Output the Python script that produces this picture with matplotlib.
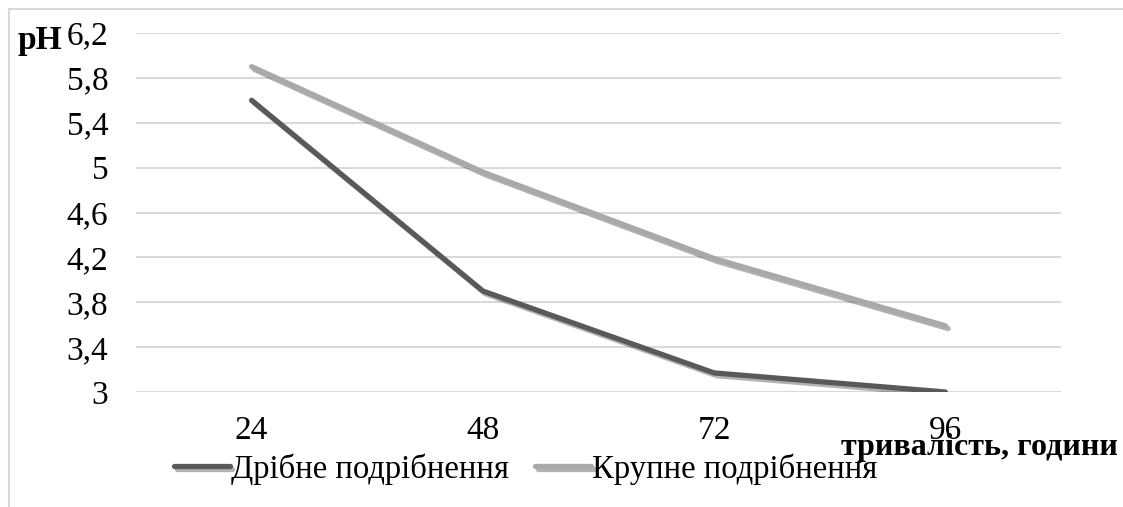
import matplotlib.pyplot as plt
import matplotlib.patheffects as pe
from matplotlib.patches import Rectangle

plt.rcParams['font.family'] = ['Liberation Serif', 'DejaVu Serif']

# дані
години = ["24", "48", "72", "96"]
дрібне = [5.6, 3.9, 3.17, 3.0]
крупне = [5.9, 4.96, 4.19, 3.59]
yticks = [3, 3.4, 3.8, 4.2, 4.6, 5, 5.4, 5.8, 6.2]
ytick_labels = ["3", "3,4", "3,8", "4,2", "4,6", "5", "5,4", "5,8", "6,2"]

fig = plt.figure(figsize=(11.23, 5.07), dpi=100)
ax = fig.add_axes([136 / 1123, 1 - 392 / 507, 925 / 1123, 359 / 507])

# рамка навколо діаграми
fig.patches.append(Rectangle((9 / 1123, -0.1), 1.2, 1 - 9 / 507 + 0.1,
                             transform=fig.transFigure, fill=False,
                             edgecolor='#d9d9d9', linewidth=1.5))

x = range(len(години))
shadow = [pe.SimpleLineShadow(offset=(2, -2), shadow_color='black', alpha=0.3), pe.Normal()]
ax.plot(x, дрібне, color='#595959', linewidth=3.8, solid_capstyle='round',
        label='Дрібне подрібнення', path_effects=shadow)
ax.plot(x, крупне, color='#a9a9a9', linewidth=3.8, solid_capstyle='round',
        label='Крупне подрібнення', path_effects=shadow)

ax.set_xlim(-0.5, 3.5)
ax.set_ylim(3, 6.2)
ax.set_xticks(list(x))
ax.set_xticklabels(години, fontsize=24)
ax.set_yticks(yticks)
ax.set_yticklabels(ytick_labels, fontsize=24)
ax.tick_params(length=0)
ax.tick_params(axis='y', pad=20)
ax.tick_params(axis='x', pad=17)
ax.grid(axis='y', color='#d9d9d9', linewidth=1.5)
ax.set_axisbelow(True)
for s in ax.spines.values():
    s.set_visible(False)

fig.text(17 / 1123, 1 - 41 / 507, "pH", fontsize=24, fontweight='bold', va='center', ha='left')
fig.text(1118 / 1123, 1 - 447 / 507, "тривалість, години", fontsize=23,
         fontweight='bold', va='center', ha='right')

fig.legend(loc='center', bbox_to_anchor=(526 / 1123, 1 - 469 / 507), ncol=2,
           frameon=False, fontsize=23.5, handlelength=1.7, handletextpad=0.05,
           columnspacing=0.8)

fig.savefig("out.png", dpi=100)
